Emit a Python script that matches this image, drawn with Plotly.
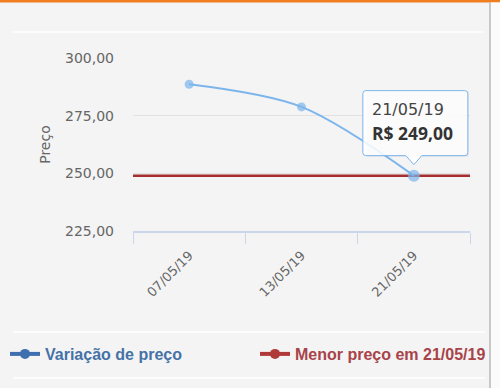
import plotly.graph_objects as go

# ---- data ----
dates = ["07/05/19", "13/05/19", "21/05/19"]
prices = [288.6, 278.8, 249.0]
y_ticks = [225, 250, 275, 300]
y_tick_text = ["225,00", "250,00", "275,00", "300,00"]
series_names = ["Variação de preço", "Menor preço em 21/05/19"]
tooltip_date = "21/05/19"
tooltip_value = "R$ 249,00"

W, H = 500, 388
ML, MR, MT, MB = 133, 30, 58, 157
PW, PH = W - ML - MR, H - MT - MB


def px(xp):
    return (xp - ML) / PW


def py(yp):
    return (H - MB - yp) / PH


BG = "#f4f4f4"
LINE = "#7cb5ec"
RED = "#a52f2f"
hover_idx = dates.index(tooltip_date)
min_price = min(prices)

fig = go.Figure()

fig.add_trace(go.Scatter(
    x=dates, y=prices, mode="lines+markers",
    line=dict(color=LINE, width=2, shape="spline", smoothing=0.9),
    marker=dict(color=LINE, size=[12 if i == hover_idx else 9 for i in range(len(dates))],
                line=dict(width=0)),
    showlegend=False, hoverinfo="skip",
))

# legend-only entries (two separate legends to reproduce the spacing)
fig.add_trace(go.Scatter(
    x=[None], y=[None], mode="lines+markers",
    line=dict(color="#3f6fae", width=4), marker=dict(color="#3f6fae", size=10),
    name='<b><span style="color:#4572a7">' + series_names[0] + '</span></b>',
    legend="legend",
))
fig.add_trace(go.Scatter(
    x=[None], y=[None], mode="lines+markers",
    line=dict(color="#b03a3a", width=4), marker=dict(color="#b03a3a", size=10),
    name='<b><span style="color:#a8434a">' + series_names[1] + '</span></b>',
    legend="legend2",
))

shapes = []
# min price plot line
shapes.append(dict(type="line", xref="x domain", yref="y", x0=0, x1=1,
                   y0=min_price, y1=min_price, line=dict(color=RED, width=2.5),
                   layer="below"))

# tooltip callout (pixel path relative to hovered point)
x0, x1, yb, yt, r = -51, 54, 20, 85, 3
path = (f"M {x0+r},{yt} L {x1-r},{yt} Q {x1},{yt} {x1},{yt-r} L {x1},{yb+r} "
        f"Q {x1},{yb} {x1-r},{yb} L 8,{yb} L 0,11 L -8,{yb} L {x0+r},{yb} "
        f"Q {x0},{yb} {x0},{yb+r} L {x0},{yt-r} Q {x0},{yt} {x0+r},{yt} Z")
shadow = (f"M {x0+r+1},{yt-1} L {x1+1},{yt-1} L {x1+1},{yb-1} L {x0+r+1},{yb-1} Z")
shapes.append(dict(type="path", xref="x", yref="y", xsizemode="pixel", ysizemode="pixel",
                   xanchor=tooltip_date, yanchor=min_price, path=shadow,
                   fillcolor="rgba(0,0,0,0.06)", line=dict(width=0), layer="above"))
shapes.append(dict(type="path", xref="x", yref="y", xsizemode="pixel", ysizemode="pixel",
                   xanchor=tooltip_date, yanchor=min_price, path=path,
                   fillcolor="rgba(255,255,255,0.85)", line=dict(color=LINE, width=1),
                   layer="above"))

# decorative frame lines
shapes.append(dict(type="rect", xref="paper", yref="paper", x0=px(0), x1=px(W),
                   y0=py(2.5), y1=py(0), fillcolor="#f07d1e", line=dict(width=0)))
shapes.append(dict(type="line", xref="paper", yref="paper", x0=px(13), x1=px(483),
                   y0=py(32), y1=py(32), line=dict(color="#ffffff", width=1.5)))
for yy in (332, 378):
    shapes.append(dict(type="line", xref="paper", yref="paper", x0=px(13), x1=px(485),
                       y0=py(yy), y1=py(yy), line=dict(color="#ffffff", width=1.5)))
shapes.append(dict(type="rect", xref="paper", yref="paper", x0=px(491), x1=px(W),
                   y0=py(H), y1=py(2.5), fillcolor="#fbfbfb", line=dict(width=0)))
shapes.append(dict(type="line", xref="paper", yref="paper", x0=px(490), x1=px(490),
                   y0=py(H), y1=py(2.5), line=dict(color="#c8c8c8", width=2)))

annotations = [
    dict(x=tooltip_date, y=min_price, xref="x", yref="y", text=tooltip_date,
         showarrow=False, xanchor="left", yanchor="middle", xshift=-44, yshift=66,
         font=dict(family="DejaVu Sans", size=16, color="#444")),
    dict(x=tooltip_date, y=min_price, xref="x", yref="y", text="<b>" + tooltip_value + "</b>",
         showarrow=False, xanchor="left", yanchor="middle", xshift=-44, yshift=43,
         font=dict(family="Open Sans", size=17.5, color="#333")),
]

legend_common = dict(orientation="h", yanchor="middle", y=py(354), xanchor="left",
                     font=dict(family="Liberation Sans", size=16), bgcolor="rgba(0,0,0,0)")

fig.update_layout(
    width=W, height=H,
    margin=dict(l=ML, r=MR, t=MT, b=MB, pad=0, autoexpand=False),
    paper_bgcolor=BG, plot_bgcolor=BG,
    font=dict(family="DejaVu Sans", color="#666"),
    shapes=shapes, annotations=annotations,
    showlegend=True,
    legend=dict(x=px(5), **legend_common),
    legend2=dict(x=px(255), **legend_common),
)

fig.update_xaxes(
    type="category", categoryorder="array", categoryarray=dates,
    range=[-0.5, len(dates) - 0.5], autorange=False,
    tickson="boundaries", ticks="outside", ticklen=11, tickcolor="#ccd6eb", tickwidth=1,
    showline=True, linecolor="#ccd6eb", linewidth=1.5, showgrid=False,
    tickangle=-45, ticklabelstandoff=10,
    tickfont=dict(family="DejaVu Sans", size=13, color="#666"),
    fixedrange=True, automargin=False,
)
fig.update_yaxes(
    range=[225, 300], autorange=False, tickvals=y_ticks, ticktext=y_tick_text,
    showgrid=True, gridcolor="#e2e2e2", gridwidth=1, zeroline=False,
    ticks="", ticklabelstandoff=18,
    tickfont=dict(family="DejaVu Sans", size=14, color="#666"),
    title=dict(text="Preço", font=dict(family="DejaVu Sans", size=14, color="#666"), standoff=11),
    fixedrange=True, automargin=False,
)

fig.write_html("out.html", config={"displayModeBar": False})
